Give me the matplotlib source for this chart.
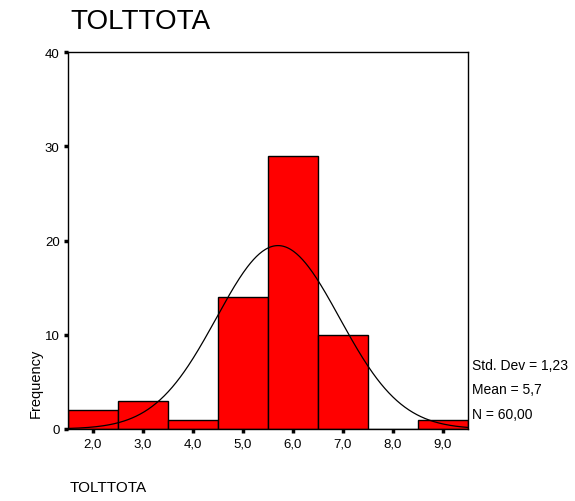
import matplotlib
matplotlib.use("Agg")
import matplotlib.pyplot as plt
import numpy as np

plt.rcParams['font.family'] = ['Liberation Sans', 'DejaVu Sans']

# histogram data (bin centers and counts)
bin_centers = [2.0, 3.0, 4.0, 5.0, 6.0, 7.0, 8.0, 9.0]
counts = [2, 3, 1, 14, 29, 10, 0, 1]
tick_labels = ['2,0', '3,0', '4,0', '5,0', '6,0', '7,0', '8,0', '9,0']

# summary statistics shown in the chart
std_dev = 1.23
mean = 5.7
n = 60
bin_width = 1.0

fig = plt.figure(figsize=(5.75, 5.02), dpi=100)
ax = fig.add_axes([68 / 575, 1 - 430 / 502, (468 - 68) / 575, (430 - 53) / 502])

ax.bar(bin_centers, counts, width=bin_width, color='#ff0000',
       edgecolor='black', linewidth=1.0, zorder=2)

# fitted normal curve
xs = np.linspace(1.5, 9.5, 400)
ys = n * bin_width / (std_dev * np.sqrt(2 * np.pi)) * np.exp(-0.5 * ((xs - mean) / std_dev) ** 2)
ax.plot(xs, ys, color='black', linewidth=0.9, zorder=3)

ax.set_xlim(1.5, 9.5)
ax.set_ylim(0, 40)
ax.set_xticks(bin_centers)
ax.set_xticklabels(tick_labels)
ax.set_yticks([0, 10, 20, 30, 40])
ax.tick_params(direction='out', length=3, width=2.5, labelsize=9.5, pad=3, colors='black')
for s in ax.spines.values():
    s.set_linewidth(1.0)

fig.text(70 / 575, 1 - 22 / 502, 'TOLTTOTA', fontsize=20, ha='left', va='center')
fig.text(70 / 575, 1 - 488 / 502, 'TOLTTOTA', fontsize=11, ha='left', va='center')
fig.text(36 / 575, 1 - 383 / 502, 'Frequency', fontsize=10.5, rotation=90,
         ha='center', va='center')

stats = ['Std. Dev = 1,23', 'Mean = 5,7', 'N = 60,00']
for i, s in enumerate(stats):
    fig.text(472 / 575, 1 - (366 + i * 24.5) / 502, s, fontsize=10,
             ha='left', va='center')

fig.savefig('out.png', dpi=100)
